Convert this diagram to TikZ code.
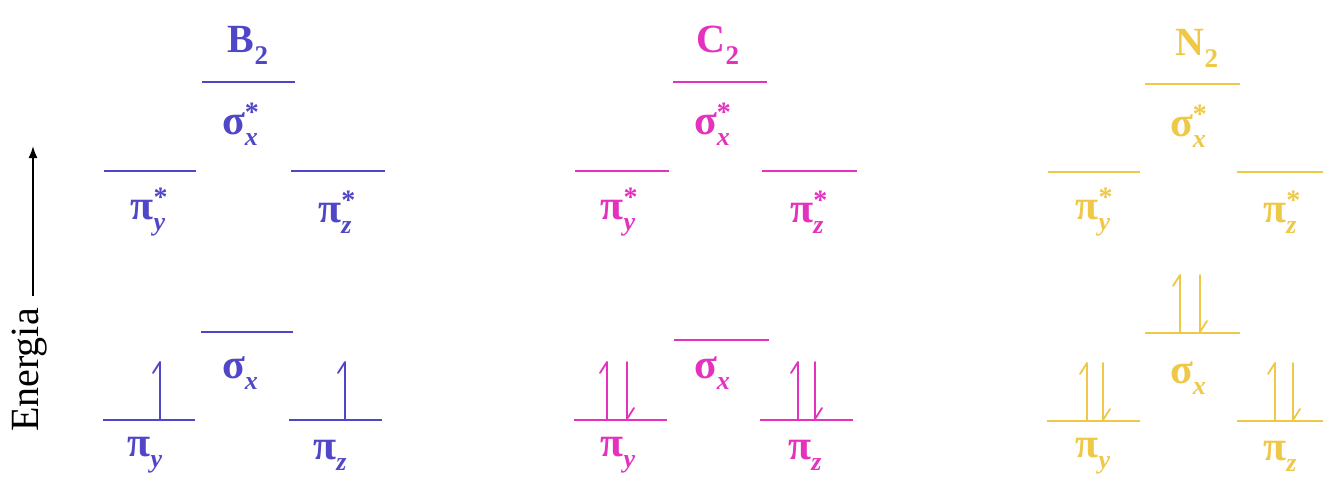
\documentclass[tikz,border=0pt]{standalone}
\usepackage{fontspec}
\setmainfont{Liberation Serif}
\usetikzlibrary{arrows.meta}
\definecolor{cB}{RGB}{80,70,200}
\definecolor{cC}{RGB}{228,50,190}
\definecolor{cN}{RGB}{238,200,70}
\newcommand\orbl[3]{#1\rlap{\raisebox{0.32em}{\fontsize{28}{28}\selectfont\bfseries #3}}\raisebox{-0.26em}{\fontsize{26}{26}\selectfont\itshape #2}}
\newcommand\molc[2]{#1\raisebox{-0.3em}{\fontsize{27}{27}\selectfont #2}}
\tikzset{
  lvl/.style={line width=2.6pt},
  lab/.style={font=\fontsize{42}{46}\selectfont\bfseries, inner sep=0pt},
  mol/.style={font=\fontsize{40}{44}\selectfont\bfseries, inner sep=0pt},
  spin/.style={line width=1.8pt, line cap=round, line join=round},
}
\newcommand\upe[3]{\draw[spin,#1] (#2,#3) -- (#2,#3-57) -- ++(-7,11);}
\newcommand\dne[3]{\draw[spin,#1] (#2,#3-57) -- (#2,#3) -- ++(7,-11);}
\begin{document}
\begin{tikzpicture}[x=1pt,y=-1pt]
\useasboundingbox (0,0) rectangle (1323,479);
\fill[white] (0,0) rectangle (1323,479);
% Energy axis
\coordinate (ea) at (33,296);
\coordinate (eb) at (33,146);
\draw[line width=1.8pt,-{Latex[length=12pt,width=9pt]}] (ea) -- (eb);
\node[rotate=90, font=\fontsize{40}{44}\selectfont, inner sep=0pt] (energia) at (30,370) {Energia};
% ---------- B2 ----------
\begin{scope}[color=cB]
\node[mol] (B2) at (248,45) {\molc{B}{2}};
\draw[lvl] (202,82) -- (295,82);
\draw[lvl] (104,171) -- (196,171);
\draw[lvl] (291,171) -- (385,171);
\draw[lvl] (201,332) -- (293,332);
\draw[lvl] (103,420) -- (195,420);
\draw[lvl] (289,420) -- (382,420);
\node[lab] (Bsxs) at (240,124) {\orbl{σ}{x}{*}};
\node[lab] (Bpys) at (148,212) {\orbl{π}{y}{*}};
\node[lab] (Bpzs) at (335,212) {\orbl{π}{z}{*}};
\node[lab] (Bsx) at (240,373) {\orbl{σ}{x}{}};
\node[lab] (Bpy) at (145,455) {\orbl{π}{y}{}};
\node[lab] (Bpz) at (330,455) {\orbl{π}{z}{}};
\upe{cB}{160}{419}
\upe{cB}{345}{419}
\end{scope}
% ---------- C2 ----------
\begin{scope}[color=cC]
\node[mol] (C2) at (718,45) {\molc{C}{2}};
\draw[lvl] (673,82) -- (767,82);
\draw[lvl] (575,171) -- (669,171);
\draw[lvl] (762,171) -- (857,171);
\draw[lvl] (674,340) -- (769,340);
\draw[lvl] (574,420) -- (667,420);
\draw[lvl] (760,420) -- (853,420);
\node[lab] (Csxs) at (712,124) {\orbl{σ}{x}{*}};
\node[lab] (Cpys) at (618,212) {\orbl{π}{y}{*}};
\node[lab] (Cpzs) at (807,212) {\orbl{π}{z}{*}};
\node[lab] (Csx) at (712,373) {\orbl{σ}{x}{}};
\node[lab] (Cpy) at (618,455) {\orbl{π}{y}{}};
\node[lab] (Cpz) at (805,455) {\orbl{π}{z}{}};
\upe{cC}{607}{419}
\dne{cC}{627}{419}
\upe{cC}{798}{419}
\dne{cC}{815}{419}
\end{scope}
% ---------- N2 ----------
\begin{scope}[color=cN]
\node[mol] (N2) at (1197,48) {\molc{N}{2}};
\draw[lvl] (1145,84) -- (1240,84);
\draw[lvl] (1048,172) -- (1140,172);
\draw[lvl] (1237,172) -- (1323,172);
\draw[lvl] (1145,333) -- (1240,333);
\draw[lvl] (1047,421) -- (1140,421);
\draw[lvl] (1237,421) -- (1323,421);
\node[lab] (Nsxs) at (1188,126) {\orbl{σ}{x}{*}};
\node[lab] (Npys) at (1093,212) {\orbl{π}{y}{*}};
\node[lab] (Npzs) at (1280,212) {\orbl{π}{z}{*}};
\node[lab] (Nsx) at (1188,378) {\orbl{σ}{x}{}};
\node[lab] (Npy) at (1093,456) {\orbl{π}{y}{}};
\node[lab] (Npz) at (1280,456) {\orbl{π}{z}{}};
\upe{cN}{1180}{332}
\dne{cN}{1200}{332}
\upe{cN}{1087}{420}
\dne{cN}{1103}{420}
\upe{cN}{1275}{420}
\dne{cN}{1293}{420}
\end{scope}
\end{tikzpicture}
\end{document}
